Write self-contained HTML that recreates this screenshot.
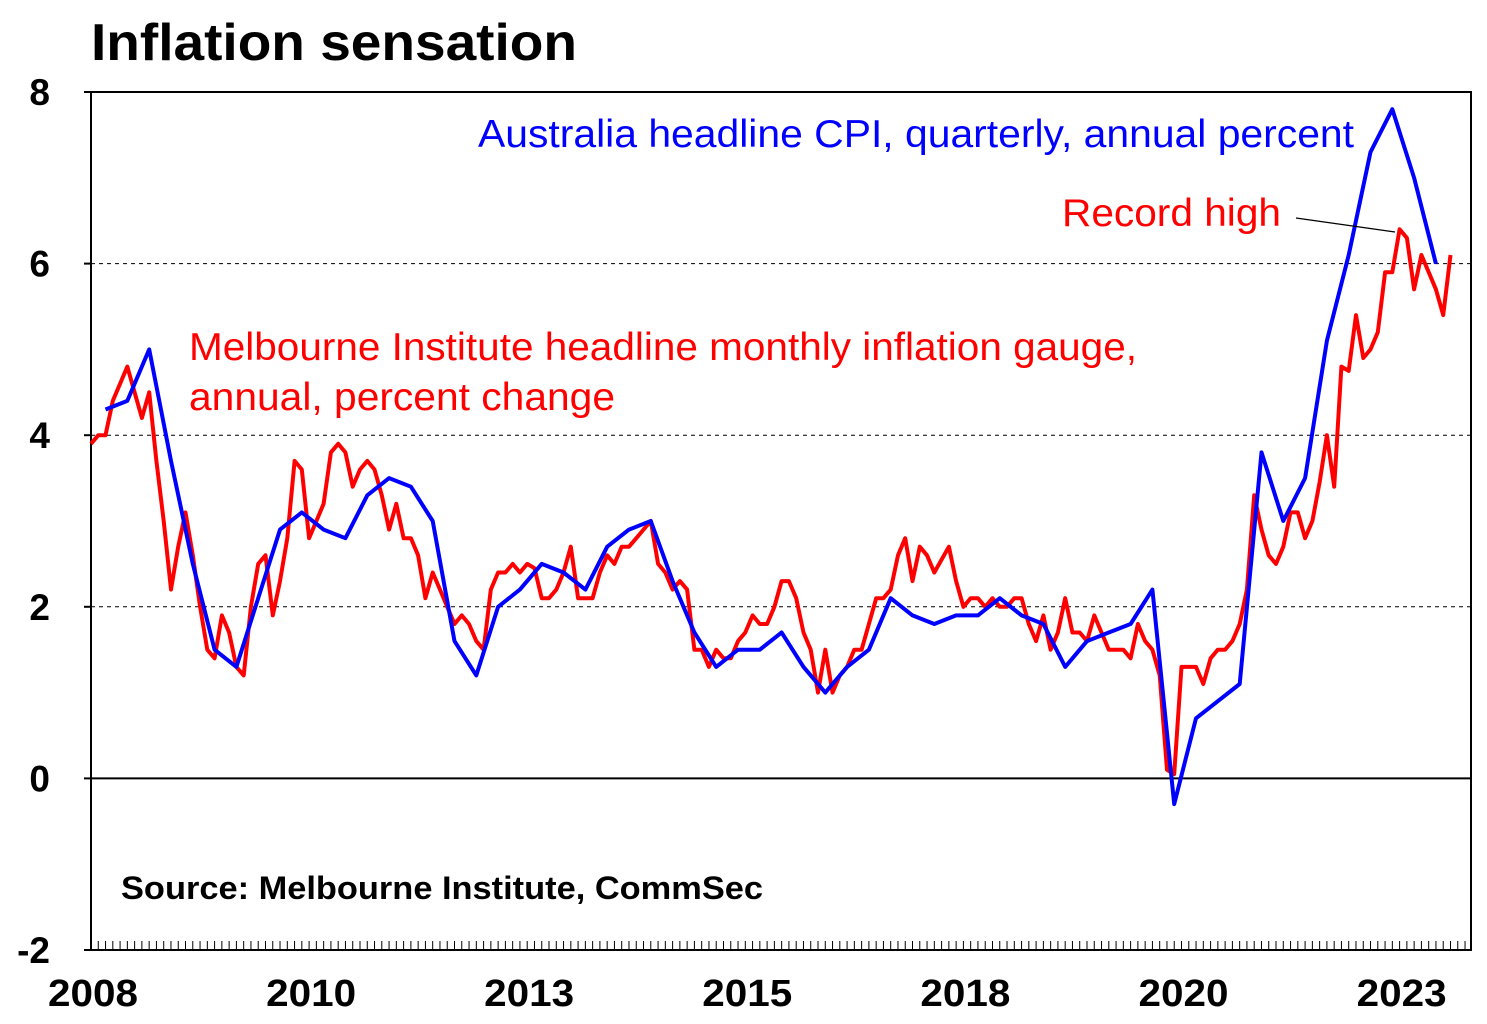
<!DOCTYPE html>
<html><head><meta charset="utf-8"><style>
body{margin:0;background:#fff;}
svg{display:block;font-family:"Liberation Sans",Arial,sans-serif;}
</style></head><body>
<svg id="chart" width="1487" height="1024" viewBox="0 0 1487 1024" xmlns="http://www.w3.org/2000/svg">
<rect width="1487" height="1024" fill="#fff"/>
<text x="91" y="60" font-size="52" font-weight="bold" fill="#000" textLength="486" lengthAdjust="spacingAndGlyphs">Inflation sensation</text>
<g id="grid"></g>
<g id="axes"></g>
<g id="series"></g>
<text x="478" y="147" font-size="39" fill="#0000ff" textLength="876" lengthAdjust="spacingAndGlyphs">Australia headline CPI, quarterly, annual percent</text>
<text x="1062" y="226" font-size="39" fill="#ff0000" textLength="219" lengthAdjust="spacingAndGlyphs">Record high</text>
<line x1="1296" y1="218" x2="1395" y2="232" stroke="#000" stroke-width="1.2"/>
<text x="189" y="360" font-size="39" fill="#ff0000" textLength="948" lengthAdjust="spacingAndGlyphs">Melbourne Institute headline monthly inflation gauge,</text>
<text x="189" y="410" font-size="39" fill="#ff0000" textLength="426" lengthAdjust="spacingAndGlyphs">annual, percent change</text>
<text x="121" y="899" font-size="32" font-weight="bold" fill="#000" textLength="642" lengthAdjust="spacingAndGlyphs">Source: Melbourne Institute, CommSec</text>
</svg>
<script>
// Melbourne Institute monthly gauge, Jan 2008 .. Aug 2023
const redValues = [
3.9,4.0,4.0,4.4,4.6,4.8,4.5,4.2,4.5,3.7,3.0,2.2,
2.7,3.1,2.6,2.0,1.5,1.4,1.9,1.7,1.3,1.2,2.0,2.5,
2.6,1.9,2.3,2.8,3.7,3.6,2.8,3.0,3.2,3.8,3.9,3.8,
3.4,3.6,3.7,3.6,3.3,2.9,3.2,2.8,2.8,2.6,2.1,2.4,
2.2,2.0,1.8,1.9,1.8,1.6,1.5,2.2,2.4,2.4,2.5,2.4,
2.5,2.45,2.1,2.1,2.2,2.4,2.7,2.1,2.1,2.1,2.4,2.6,
2.5,2.7,2.7,2.8,2.9,3.0,2.5,2.4,2.2,2.3,2.2,1.5,
1.5,1.3,1.5,1.4,1.4,1.6,1.7,1.9,1.8,1.8,2.0,2.3,
2.3,2.1,1.7,1.5,1.0,1.5,1.0,1.2,1.3,1.5,1.5,1.8,
2.1,2.1,2.2,2.6,2.8,2.3,2.7,2.6,2.4,2.55,2.7,2.3,
2.0,2.1,2.1,2.0,2.1,2.0,2.0,2.1,2.1,1.8,1.6,1.9,
1.5,1.7,2.1,1.7,1.7,1.6,1.9,1.7,1.5,1.5,1.5,1.4,
1.8,1.6,1.5,1.2,0.1,0.05,1.3,1.3,1.3,1.1,1.4,1.5,
1.5,1.6,1.8,2.2,3.3,2.9,2.6,2.5,2.7,3.1,3.1,2.8,
3.0,3.45,4.0,3.4,4.8,4.75,5.4,4.9,5.0,5.2,5.9,5.9,
6.4,6.3,5.7,6.1,5.9,5.7,5.4,6.1];
// ABS headline CPI, quarterly, Mar 2008 .. Jun 2023
const blueValues = [
4.3,4.4,5.0,3.7, 2.5,1.5,1.3,2.1, 2.9,3.1,2.9,2.8, 3.3,3.5,3.4,3.0,
1.6,1.2,2.0,2.2, 2.5,2.4,2.2,2.7, 2.9,3.0,2.3,1.7, 1.3,1.5,1.5,1.7,
1.3,1.0,1.3,1.5, 2.1,1.9,1.8,1.9, 1.9,2.1,1.9,1.8, 1.3,1.6,1.7,1.8,
2.2,-0.3,0.7,0.9, 1.1,3.8,3.0,3.5, 5.1,6.1,7.3,7.8, 7.0,6.0];
const yTicks = [8,6,4,2,0,-2];
const gridValues = [6,4,2];
const xTickLabels = ["2008","2010","2013","2015","2018","2020","2023"];
const xTickMonths = [0,30,60,90,120,150,180];

const L=91,R=1471,T=92,B=950,YMAX=8,YMIN=-2,MW=7.27;
const NS="http://www.w3.org/2000/svg";
function y(v){return T+(YMAX-v)/(YMAX-YMIN)*(B-T);}
function x(m){return L+m*MW;}
function mk(tag,attrs,parent,txt){const e=document.createElementNS(NS,tag);for(const k in attrs)e.setAttribute(k,attrs[k]);if(txt!==undefined)e.textContent=txt;parent.appendChild(e);return e;}
const grid=document.getElementById('grid'),axes=document.getElementById('axes'),series=document.getElementById('series');
gridValues.forEach(v=>{
  const g=mk('line',{x1:L,x2:R,y1:y(v),y2:y(v),stroke:'#000','stroke-width':1,'stroke-dasharray':'4,4'},grid);
  
  
});
const zl=mk('line',{x1:L,x2:R,y1:y(0),y2:y(0),stroke:'#000','stroke-width':2},grid);


const frame=mk('rect',{x:L,y:T,width:R-L,height:B-T,fill:'none',stroke:'#000','stroke-width':2},axes);


yTicks.forEach(v=>{
  mk('line',{x1:L-7,x2:L,y1:y(v),y2:y(v),stroke:'#000','stroke-width':2},axes);
  const t=mk('text',{x:50,y:y(v)+13,'font-size':37,'font-weight':'bold','text-anchor':'end'},axes,String(v));
  
  
});
for(let m=0;x(m)<=R;m++){
  mk('line',{x1:x(m),x2:x(m),y1:B,y2:B-9,stroke:'#000','stroke-width':1},axes);
}
xTickLabels.forEach((s,i)=>{
  const t=mk('text',{x:x(xTickMonths[i])+2-45,y:1006,'font-size':38,'font-weight':'bold',textLength:90,lengthAdjust:'spacingAndGlyphs'},axes,s);
  
  
});
const rp=redValues.map((v,i)=>x(i).toFixed(1)+','+y(v).toFixed(1)).join(' ');
const red=mk('polyline',{points:rp,fill:'none',stroke:'#ff0000','stroke-width':4,'stroke-linejoin':'round'},series);


const bp=blueValues.map((v,i)=>x(2+3*i).toFixed(1)+','+y(v).toFixed(1)).join(' ');
const blue=mk('polyline',{points:bp,fill:'none',stroke:'#0000ff','stroke-width':4,'stroke-linejoin':'round'},series);


</script>
</body></html>
